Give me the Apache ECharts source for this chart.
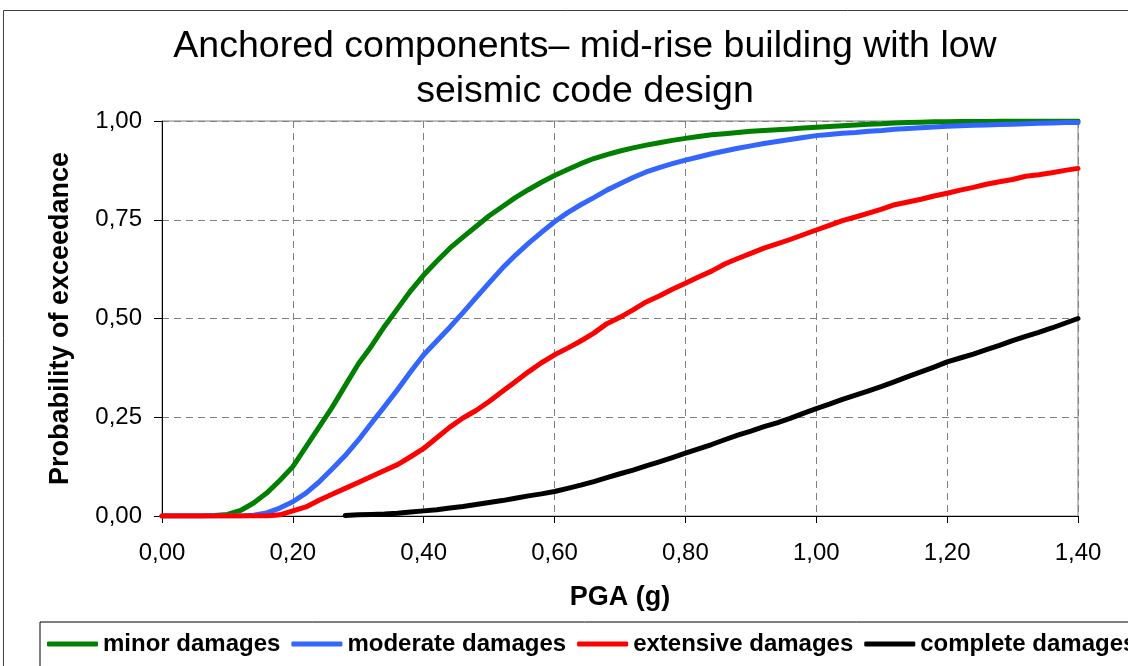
<!DOCTYPE html>
<html>
<head>
<meta charset="utf-8">
<script src="https://cdn.jsdelivr.net/npm/echarts@6/dist/echarts.min.js"></script>
<style>
html,body{margin:0;padding:0;background:#fff;}
#chart{width:1128px;height:666px;}
</style>
</head>
<body>
<div id="chart"></div>
<script>
// PGA values (g), step 0.02
const pga = [0.00,0.02,0.04,0.06,0.08,0.10,0.12,0.14,0.16,0.18,0.20,0.22,0.24,0.26,0.28,0.30,0.32,0.34,0.36,0.38,0.40,0.42,0.44,0.46,0.48,0.50,0.52,0.54,0.56,0.58,0.60,0.62,0.64,0.66,0.68,0.70,0.72,0.74,0.76,0.78,0.80,0.82,0.84,0.86,0.88,0.90,0.92,0.94,0.96,0.98,1.00,1.02,1.04,1.06,1.08,1.10,1.12,1.14,1.16,1.18,1.20,1.22,1.24,1.26,1.28,1.30,1.32,1.34,1.36,1.38,1.40];

const minorDamages = [0,0,0,0,0.001,0.004,0.014,0.033,0.058,0.09,0.125,0.175,0.225,0.275,0.33,0.385,0.43,0.48,0.525,0.57,0.61,0.645,0.678,0.706,0.733,0.76,0.783,0.806,0.826,0.845,0.862,0.877,0.892,0.905,0.915,0.924,0.932,0.939,0.945,0.951,0.956,0.961,0.965,0.968,0.971,0.974,0.976,0.978,0.980,0.982,0.984,0.986,0.988,0.990,0.992,0.993,0.995,0.996,0.997,0.998,0.998,0.999,0.999,0.999,1,1,1,1,1,1,1];

const moderateDamages = [0,0,0,0,0,0,0,0.002,0.008,0.02,0.036,0.058,0.086,0.119,0.153,0.192,0.235,0.277,0.32,0.365,0.408,0.443,0.478,0.515,0.553,0.59,0.627,0.66,0.69,0.718,0.745,0.768,0.788,0.806,0.825,0.841,0.857,0.871,0.882,0.892,0.901,0.909,0.917,0.924,0.931,0.937,0.943,0.948,0.953,0.958,0.963,0.966,0.969,0.971,0.974,0.976,0.979,0.981,0.983,0.985,0.987,0.988,0.989,0.990,0.991,0.992,0.993,0.994,0.995,0.996,0.996];

const extensiveDamages = [0,0,0,0,0,0,0,0,0,0.003,0.013,0.023,0.04,0.055,0.07,0.085,0.1,0.115,0.13,0.15,0.171,0.198,0.225,0.248,0.267,0.29,0.315,0.34,0.365,0.388,0.408,0.425,0.443,0.463,0.487,0.503,0.522,0.542,0.557,0.574,0.589,0.605,0.62,0.638,0.652,0.665,0.678,0.689,0.7,0.712,0.724,0.736,0.748,0.757,0.767,0.777,0.788,0.795,0.802,0.81,0.817,0.825,0.832,0.84,0.846,0.852,0.86,0.864,0.869,0.875,0.88];

const completeDamages = [null,null,null,null,null,null,null,null,null,null,null,null,null,null,0.001,0.003,0.004,0.005,0.007,0.01,0.013,0.016,0.02,0.024,0.029,0.034,0.039,0.045,0.051,0.056,0.062,0.07,0.078,0.087,0.097,0.107,0.116,0.127,0.137,0.148,0.159,0.17,0.181,0.193,0.205,0.215,0.226,0.236,0.247,0.26,0.272,0.283,0.295,0.306,0.317,0.328,0.34,0.353,0.365,0.377,0.39,0.4,0.41,0.421,0.432,0.444,0.455,0.465,0.476,0.488,0.50];

const seriesNames = ['minor damages','moderate damages','extensive damages','complete damages'];
const seriesValues = [minorDamages, moderateDamages, extensiveDamages, completeDamages];
const seriesColors = ['#008000','#3366FF','#FF0000','#000000'];

const titleText = 'Anchored components\u2013 mid-rise building with low\nseismic code design';
const xTitle = 'PGA (g)';
const yTitle = 'Probability of exceedance';

const FONT = '"Liberation Sans", Arial, sans-serif';
const fmt = v => v.toFixed(2).replace('.', ',');

const chart = echarts.init(document.getElementById('chart'), null, {renderer:'canvas'});
chart.setOption({
  animation: false,
  backgroundColor: '#fff',
  graphic: [{
    type: 'rect', silent: true, z: -1,
    shape: {x: 3.5, y: 10.5, width: 1300, height: 900},
    style: {fill: 'none', stroke: '#404040', lineWidth: 1}
  }],
  title: {
    text: titleText,
    left: 580, top: 19, textAlign: 'center',
    textStyle: {fontFamily: FONT, fontSize: 37.5, fontWeight: 'normal', color: '#000', lineHeight: 45}
  },
  grid: {
    left: 162, right: 50, top: 121, bottom: 150,
    show: true, borderColor: '#808080', borderWidth: 1, backgroundColor: '#fff'
  },
  legend: {
    left: 40, top: 622, width: 1400,
    orient: 'horizontal',
    padding: [10, 7, 30, 7],
    borderColor: '#000', borderWidth: 1,
    icon: 'roundRect',
    itemWidth: 51, itemHeight: 5, itemGap: 11,
    textStyle: {fontFamily: FONT, fontSize: 24, fontWeight: 'bold', color: '#000'},
    data: seriesNames
  },
  xAxis: {
    type: 'value', min: 0, max: 1.4, interval: 0.2,
    name: xTitle, nameLocation: 'middle', nameGap: 68,
    nameTextStyle: {fontFamily: FONT, fontSize: 27, fontWeight: 'bold', color: '#000'},
    axisLine: {show: true, lineStyle: {color: '#000', width: 1}},
    axisTick: {show: true, length: 7, lineStyle: {color: '#000'}},
    axisLabel: {fontFamily: FONT, fontSize: 24, color: '#000', margin: 25, formatter: fmt},
    splitLine: {show: true, lineStyle: {color: '#808080', type: [7, 5], width: 1}}
  },
  yAxis: {
    type: 'value', min: 0, max: 1, interval: 0.25,
    name: yTitle, nameLocation: 'middle', nameGap: 88,
    nameTextStyle: {fontFamily: FONT, fontSize: 27, fontWeight: 'bold', color: '#000'},
    axisLine: {show: true, lineStyle: {color: '#000', width: 1}},
    axisTick: {show: true, length: 8, lineStyle: {color: '#000'}},
    axisLabel: {fontFamily: FONT, fontSize: 24, color: '#000', margin: 20, formatter: fmt},
    splitLine: {show: true, lineStyle: {color: '#808080', type: [7, 5], width: 1}}
  },
  series: seriesNames.map((name, i) => ({
    name: name,
    type: 'line',
    data: pga.map((x, j) => [x, seriesValues[i][j]]),
    symbol: 'none',
    clip: true,
    connectNulls: false,
    lineStyle: {color: seriesColors[i], width: 5, cap: 'round', join: 'round'},
    itemStyle: {color: seriesColors[i]},
    z: 2 + i
  }))
});
</script>
</body>
</html>
